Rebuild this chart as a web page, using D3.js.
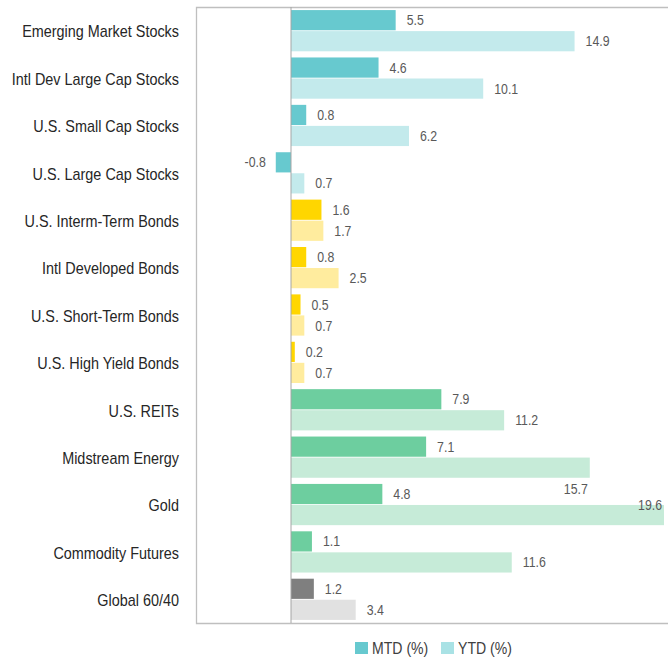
<!DOCTYPE html>
<html>
<head>
<meta charset="utf-8">
<script src="https://cdn.jsdelivr.net/npm/d3@7"></script>
<style>
body{margin:0;background:#fff;}
text{font-family:"Liberation Sans Narrow","Liberation Sans",Arial,sans-serif;}
</style>
</head>
<body>
<script>
var categories=["Emerging Market Stocks","Intl Dev Large Cap Stocks","U.S. Small Cap Stocks","U.S. Large Cap Stocks","U.S. Interm-Term Bonds","Intl Developed Bonds","U.S. Short-Term Bonds","U.S. High Yield Bonds","U.S. REITs","Midstream Energy","Gold","Commodity Futures","Global 60/40"]
var mtd=[5.5,4.6,0.8,-0.8,1.6,0.8,0.5,0.2,7.9,7.1,4.8,1.1,1.2]
var ytd=[14.9,10.1,6.2,0.7,1.7,2.5,0.7,0.7,11.2,15.7,19.6,11.6,3.4]
var groups=["stocks","stocks","stocks","stocks","bonds","bonds","bonds","bonds","real","real","real","real","global"]
var seriesNames=["MTD (%)","YTD (%)"]

var colors={
  stocks:["#67C9CF","#C3EAEC"],
  bonds:["#FFD600","#FFEC9E"],
  real:["#6DCE9F","#C6EBD8"],
  global:["#7F7F7F","#E1E1E1"]
}
var legendColors=["#67C9CF","#A9E2E5"]

var screen={width:668,height:660}
var frame={left:196,top:7,bottom:623}
var svg=d3.select("body").append("svg")
          .attr("width",screen.width)
          .attr("height",screen.height)

var xScale=d3.scaleLinear()
             .domain([0,19.6])
             .range([291,664])
var yScale=d3.scaleBand()
             .domain(categories)
             .range([frame.top,frame.bottom])
             .paddingInner(0.13)
             .paddingOuter(0.065)
var sub=d3.scaleBand()
          .domain([0,1])
          .range([0,yScale.bandwidth()])
          .paddingInner(0.04)

// narrow font is not installed, so squeeze the glyphs
var place=function(x,y,s){return "translate("+x+","+y+") scale("+s+",1)"}

// frame
svg.append("path")
   .attr("d","M"+screen.width+","+(frame.top+0.5)+"H"+(frame.left+0.5)+"V"+(frame.bottom+0.5)+"H"+screen.width)
   .attr("fill","none")
   .attr("stroke","#BFBFBF")
   .attr("stroke-width",1.3)

var rows=categories.map(function(c,i){return {cat:c,vals:[mtd[i],ytd[i]],group:groups[i]}})

var row=svg.selectAll("g.row")
           .data(rows)
           .enter()
           .append("g")
           .classed("row",true)
           .attr("transform",function(d){return "translate(0,"+yScale(d.cat)+")"})

row.selectAll("rect")
   .data(function(d){return d.vals.map(function(v,j){return {v:v,j:j,group:d.group,cat:d.cat}})})
   .enter()
   .append("rect")
   .attr("x",function(d){return xScale(Math.min(0,d.v))})
   .attr("y",function(d){return sub(d.j)})
   .attr("width",function(d){return Math.abs(xScale(d.v)-xScale(0))})
   .attr("height",sub.bandwidth())
   .attr("fill",function(d){return colors[d.group][d.j]})

row.selectAll("text.val")
   .data(function(d){return d.vals.map(function(v,j){return {v:v,j:j,cat:d.cat}})})
   .enter()
   .append("text")
   .classed("val",true)
   .attr("transform",function(d){
      var x=xScale(d.v)+11
      if(d.v>=15)x=xScale(d.v)-2
      if(d.v<0)x=xScale(d.v)-10
      var y=sub(d.j)+sub.bandwidth()/2
      if(d.v>=19)y-=10
      else if(d.v>=15)y+=21
      return place(x,y,0.88)})
   .attr("dy","0.36em")
   .attr("text-anchor",function(d){return (d.v<0||d.v>=15)?"end":"start"})
   .attr("font-size",14)
   .attr("fill","#595959")
   .text(function(d){return d.v.toFixed(1)})

// zero line
svg.append("line")
   .attr("x1",xScale(0)).attr("x2",xScale(0))
   .attr("y1",frame.top).attr("y2",frame.bottom)
   .attr("stroke","#A6A6A6")
   .attr("stroke-width",1)

// category labels
svg.selectAll("text.cat")
   .data(categories)
   .enter()
   .append("text")
   .classed("cat",true)
   .attr("transform",function(d){return place(179,yScale(d)+yScale.bandwidth()/2+1,0.9)})
   .attr("dy","0.36em")
   .attr("text-anchor","end")
   .attr("font-size",16)
   .attr("fill","#262626")
   .text(function(d){return d})

// legend
var legend=svg.append("g").attr("transform","translate(355,642)")
var lx=[0,86]
seriesNames.forEach(function(n,i){
  legend.append("rect").attr("x",lx[i]).attr("y",0).attr("width",13).attr("height",12).attr("fill",legendColors[i])
  legend.append("text").attr("transform",place(lx[i]+17,6,0.88)).attr("dy","0.36em")
        .attr("font-size",16).attr("fill","#404040").text(n)
})
</script>
</body>
</html>
